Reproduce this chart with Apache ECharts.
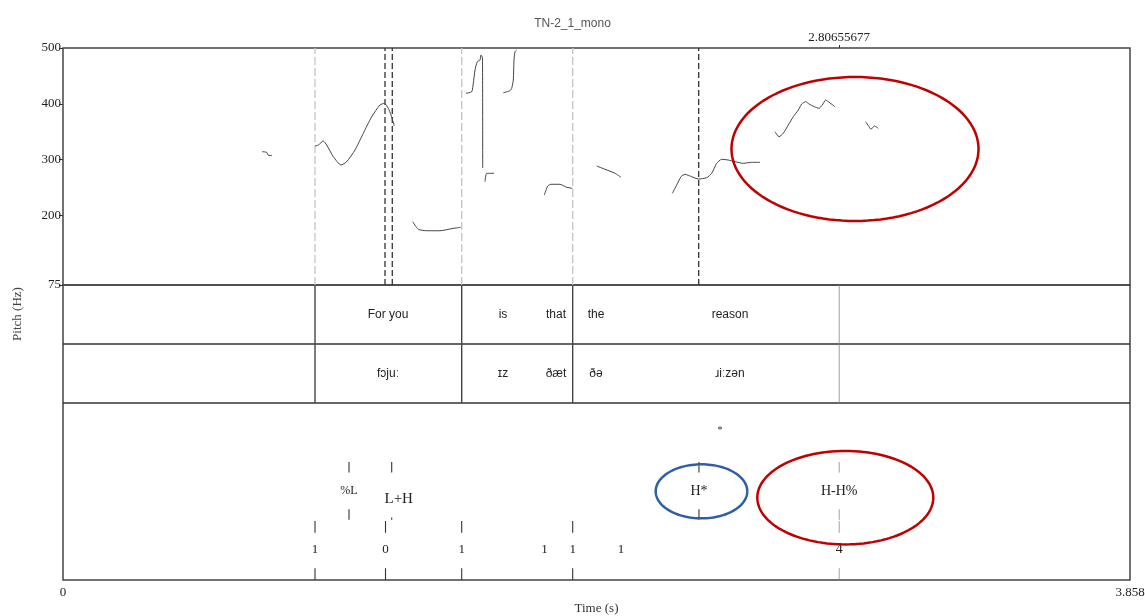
<!DOCTYPE html>
<html>
<head>
<meta charset="utf-8">
<script src="https://cdn.jsdelivr.net/npm/echarts@6.0.0/dist/echarts.min.js"></script>
<style>
  html, body { margin: 0; padding: 0; background: #fff; }
  #chart { width: 1145px; height: 616px; }
</style>
</head>
<body>
<div id="chart"></div>
<script>
// time axis (s) and pitch axis (Hz)
const timeMax = 3.858;
const pitchTicks = [75, 200, 300, 400, 500];
const cursorTime = 2.80655677;

// pitch contour, one array per voiced stretch: [time, Hz]
const seg1 = [[0.7206, 314.0], [0.7365, 312.9], [0.7412, 308.1], [0.7557, 306.9]];
const seg2 = [[0.9112, 324.2], [0.9231, 326.0], [0.9412, 333.2], [0.9535, 326.0], [0.9773, 305.1], [1.0052, 290.2], [1.0258, 296.1], [1.0558, 317.1], [1.0858, 347.0], [1.1162, 376.8], [1.1462, 397.8], [1.1617, 400.8], [1.1762, 391.9], [1.1860, 379.8], [1.1979, 360.1]];
const seg3 = [[1.2644, 188.5], [1.2847, 174.9], [1.3151, 172.3], [1.3631, 172.3], [1.4112, 176.6], [1.4380, 178.4]];
const seg4 = [[1.4572, 418.8], [1.4778, 421.6], [1.4835, 436.7], [1.4897, 460.5], [1.4980, 475.4], [1.5078, 478.5], [1.5114, 487.4], [1.5168, 482.1], [1.5175, 284.8]];
const seg5 = [[1.5258, 260.2], [1.5320, 275.3], [1.5584, 275.3]];
const seg6 = [[1.5920, 419.8], [1.6162, 423.4], [1.6224, 427.7], [1.6282, 442.6], [1.6307, 478.5], [1.6343, 493.4], [1.6405, 496.4]];
const seg7 = [[1.7403, 236.4], [1.7526, 252.5], [1.7645, 255.6], [1.7970, 255.6], [1.8212, 250.2], [1.8415, 248.4]];
const seg8 = [[1.9297, 288.4], [1.9597, 282.5], [1.9959, 275.3], [2.0176, 268.1]];
const seg9 = [[2.2031, 239.4], [2.2190, 254.3], [2.2345, 269.2], [2.2490, 273.5], [2.2732, 269.2], [2.2971, 265.1], [2.3275, 267.4], [2.3455, 275.3], [2.3636, 293.2], [2.3817, 300.4], [2.4055, 299.1], [2.4298, 296.1], [2.4598, 293.2], [2.4902, 295.0], [2.5202, 295.0]];
const seg10 = [[2.5744, 349.9], [2.5889, 340.9], [2.6044, 347.0], [2.6225, 361.9], [2.6406, 376.8], [2.6587, 388.8], [2.6710, 399.6], [2.6854, 403.7], [2.6974, 399.6], [2.7165, 394.7], [2.7335, 391.9], [2.7455, 397.8], [2.7578, 406.7], [2.7672, 403.7], [2.7914, 394.7]];
const seg11 = [[2.9024, 367.8], [2.9143, 358.9], [2.9215, 354.2], [2.9335, 360.1], [2.9479, 356.0]];
const pitchSegments = [seg1, seg2, seg3, seg4, seg5, seg6, seg7, seg8, seg9, seg10, seg11];

// dashed guides in the pitch panel
const lightGuides = [0.9112, 1.4416, 1.8429];
const darkGuides = [1.1643, 1.1906, 2.2985];

// word / phone tiers
const intervalBounds = [0.9112, 1.4416, 1.8429];
const wordTimes = [1.1751, 1.5909, 1.7826, 1.9272, 2.4117];
const words = ['For you', 'is', 'that', 'the', 'reason'];
const phones = ['fɔjuː', 'ɪz', 'ðæt', 'ðə', 'ɹiːzən'];

// tones tier
const toneTimes = [1.0341, 1.1885, 2.2995, 2.80655677];
const tones = ['%L', 'L+H', 'H*', 'H-H%'];
const starTime = 2.3755;

// break indices tier
const breakTimes = [0.9112, 1.1661, 1.4416, 1.7413, 1.8429, 2.0176, 2.80655677];
const breaks = ['1', '0', '1', '1', '1', '1', '4'];
const breakHasTicks = [true, true, true, false, true, false, true];

// annotation ellipses: [centreTime, centreValue, halfWidth (s), halfHeight]
const pitchEllipse = [2.8637, 318.9, 0.4466, 129.1];
const toneEllipses = [[2.3086, 3.497, 0.1656, 0.458], [2.8286, 3.605, 0.3182, 0.792]];

const serif = "'Liberation Serif', 'DejaVu Serif', serif";
const sans = "'Liberation Sans', Arial, sans-serif";

const chart = echarts.init(document.getElementById('chart'));

function ellipseItem(color) {
  return function (params, api) {
    const c = api.coord([api.value(0), api.value(1)]);
    const e = api.coord([api.value(0) + api.value(2), api.value(1) + api.value(3)]);
    const rx = Math.abs(e[0] - c[0]);
    const ry = Math.abs(e[1] - c[1]);
    const pts = [];
    for (let i = 0; i <= 120; i++) {
      const a = (i / 120) * Math.PI * 2;
      pts.push([c[0] + rx * Math.cos(a), c[1] + ry * Math.sin(a)]);
    }
    const col = typeof color === 'function' ? color(params.dataIndex) : color;
    return { type: 'polyline', shape: { points: pts }, style: { fill: null, stroke: col, lineWidth: 2.5 } };
  };
}

function vline(api, t, y0, y1, style) {
  const a = api.coord([t, y0]);
  const b = api.coord([t, y1]);
  return { type: 'line', shape: { x1: a[0], y1: a[1], x2: b[0], y2: b[1] }, style: style };
}

const series = [];

pitchSegments.forEach(function (seg) {
  series.push({
    type: 'line', xAxisIndex: 0, yAxisIndex: 0,
    data: seg, showSymbol: false, smooth: 0.2, silent: true,
    lineStyle: { color: '#444', width: 1 }, z: 5
  });
});

// dashed guides
series.push({
  type: 'custom', xAxisIndex: 0, yAxisIndex: 0, silent: true,
  data: lightGuides.map(function (t) { return [t, 0]; }).concat(darkGuides.map(function (t) { return [t, 1]; })),
  renderItem: function (params, api) {
    const dark = api.value(1) === 1;
    return vline(api, api.value(0), 75, 500, {
      stroke: dark ? '#333' : '#c4c4c4', lineWidth: 1.3, lineDash: dark ? [6, 3] : [8, 3]
    });
  }
});

series.push({
  type: 'custom', xAxisIndex: 0, yAxisIndex: 0, silent: true,
  data: [pitchEllipse], renderItem: ellipseItem('#c00000'), z: 6
});

// tier separators and interval boundaries
series.push({
  type: 'custom', xAxisIndex: 1, yAxisIndex: 1, silent: true,
  data: [[1], [2]],
  renderItem: function (params, api) {
    const a = api.coord([0, api.value(0)]);
    const b = api.coord([timeMax, api.value(0)]);
    return { type: 'line', shape: { x1: a[0], y1: a[1], x2: b[0], y2: b[1] }, style: { stroke: '#333', lineWidth: 1.3 } };
  }
});
series.push({
  type: 'custom', xAxisIndex: 1, yAxisIndex: 1, silent: true,
  data: intervalBounds.map(function (t) { return [t, 0]; }).concat([[cursorTime, 1]]),
  renderItem: function (params, api) {
    const cur = api.value(1) === 1;
    return vline(api, api.value(0), 0, 2, { stroke: cur ? '#888' : '#444', lineWidth: cur ? 0.8 : 1.4 });
  }
});

// word and phone labels
series.push({
  type: 'custom', xAxisIndex: 1, yAxisIndex: 1, silent: true,
  data: wordTimes.map(function (t, i) { return [t, i]; }),
  renderItem: function (params, api) {
    const i = api.value(1);
    const p1 = api.coord([api.value(0), 0.5]);
    const p2 = api.coord([api.value(0), 1.5]);
    return {
      type: 'group', children: [
        { type: 'text', x: p1[0], y: p1[1], style: { text: words[i], fontFamily: sans, fontSize: 12, fill: '#222', align: 'center', verticalAlign: 'middle' } },
        { type: 'text', x: p2[0], y: p2[1], style: { text: phones[i], fontFamily: sans, fontSize: 12, fill: '#222', align: 'center', verticalAlign: 'middle' } }
      ]
    };
  }
});

// tones
series.push({
  type: 'custom', xAxisIndex: 1, yAxisIndex: 1, silent: true,
  data: toneTimes.map(function (t, i) { return [t, i]; }),
  renderItem: function (params, api) {
    const i = api.value(1);
    const t = api.value(0);
    const isCursor = Math.abs(t - cursorTime) < 1e-6;
    const tickStyle = { stroke: isCursor ? '#888' : '#333', lineWidth: isCursor ? 0.8 : 1.1 };
    const lp = api.coord([t, 3.49]);
    let dx = 0, dy = 0, size = 14;
    if (tones[i] === '%L') size = 12;
    if (tones[i] === 'L+H') { dx = 7; dy = 8; size = 15; }
    const children = [
      vline(api, t, 3.0, 3.18, tickStyle),
      { type: 'text', x: lp[0] + dx, y: lp[1] + dy, style: { text: tones[i], fontFamily: serif, fontSize: size, fill: '#222', align: 'center', verticalAlign: 'middle' } }
    ];
    if (tones[i] === 'L+H') children.push(vline(api, t, 3.94, 3.98, tickStyle));
    else children.push(vline(api, t, 3.8, 3.98, tickStyle));
    return { type: 'group', children: children };
  }
});

series.push({
  type: 'custom', xAxisIndex: 1, yAxisIndex: 1, silent: true,
  data: [[starTime, 2.47]],
  renderItem: function (params, api) {
    const p = api.coord([api.value(0), api.value(1)]);
    return { type: 'text', x: p[0], y: p[1], style: { text: '*', fontFamily: serif, fontSize: 10, fill: '#333', align: 'center', verticalAlign: 'middle' } };
  }
});

// break indices
series.push({
  type: 'custom', xAxisIndex: 1, yAxisIndex: 1, silent: true,
  data: breakTimes.map(function (t, i) { return [t, i]; }),
  renderItem: function (params, api) {
    const i = api.value(1);
    const t = api.value(0);
    const isCursor = Math.abs(t - cursorTime) < 1e-6;
    const tickStyle = { stroke: isCursor ? '#888' : '#333', lineWidth: isCursor ? 0.8 : 1.1 };
    const lp = api.coord([t, 4.48]);
    const children = [
      { type: 'text', x: lp[0], y: lp[1], style: { text: breaks[i], fontFamily: serif, fontSize: breaks[i] === '4' ? 14 : 13, fill: '#222', align: 'center', verticalAlign: 'middle' } }
    ];
    if (breakHasTicks[i]) {
      children.push(vline(api, t, 4.0, 4.2, tickStyle));
      children.push(vline(api, t, 4.8, 5.0, tickStyle));
    }
    return { type: 'group', children: children };
  }
});

series.push({
  type: 'custom', xAxisIndex: 1, yAxisIndex: 1, silent: true,
  data: toneEllipses,
  renderItem: ellipseItem(function (i) { return i === 0 ? '#2f5ea8' : '#c00000'; }), z: 6
});

const option = {
  animation: false,
  backgroundColor: '#fff',
  title: {
    text: 'TN-2_1_mono', left: 'center', top: 13,
    textStyle: { fontFamily: sans, fontSize: 12, fontWeight: 'normal', color: '#555' }
  },
  graphic: [{
    type: 'text', x: 18, y: 314, rotation: Math.PI / 2,
    style: { text: 'Pitch (Hz)', fontFamily: serif, fontSize: 13, fill: '#444', align: 'center', verticalAlign: 'middle' }
  }],
  grid: [
    { left: 63, right: 15, top: 48, height: 237, outerBoundsMode: 'none', show: true, borderColor: '#444', borderWidth: 1.5, backgroundColor: 'transparent' },
    { left: 63, right: 15, top: 285, height: 295, outerBoundsMode: 'none', show: true, borderColor: '#444', borderWidth: 1.5, backgroundColor: 'transparent' }
  ],
  xAxis: [
    {
      gridIndex: 0, type: 'value', min: 0, max: timeMax, position: 'top',
      axisLine: { show: false }, splitLine: { show: false },
      axisTick: { show: true, customValues: [cursorTime], length: 3, lineStyle: { color: '#333' } },
      axisLabel: { customValues: [cursorTime], formatter: function () { return '2.80655677'; }, margin: 4, fontFamily: serif, fontSize: 13, color: '#222' }
    },
    {
      gridIndex: 1, type: 'value', min: 0, max: timeMax,
      axisLine: { show: false }, splitLine: { show: false }, axisTick: { show: false },
      axisLabel: {
        customValues: [0, timeMax], hideOverlap: false,
        formatter: function (v) { return v === 0 ? '0' : '3.858'; },
        margin: 6, fontFamily: serif, fontSize: 13, color: '#222'
      },
      name: 'Time (s)', nameLocation: 'middle', nameGap: 22,
      nameTextStyle: { fontFamily: serif, fontSize: 13, color: '#333' }
    }
  ],
  yAxis: [
    {
      gridIndex: 0, type: 'value', min: 75, max: 500,
      axisLine: { show: false }, splitLine: { show: false },
      axisTick: { show: true, customValues: pitchTicks, length: 4, lineStyle: { color: '#333' } },
      axisLabel: { customValues: pitchTicks, margin: 2, fontFamily: serif, fontSize: 13, color: '#222' }
    },
    { gridIndex: 1, type: 'value', min: 0, max: 5, inverse: true, show: false }
  ],
  series: series
};

chart.setOption(option);
</script>
</body>
</html>
